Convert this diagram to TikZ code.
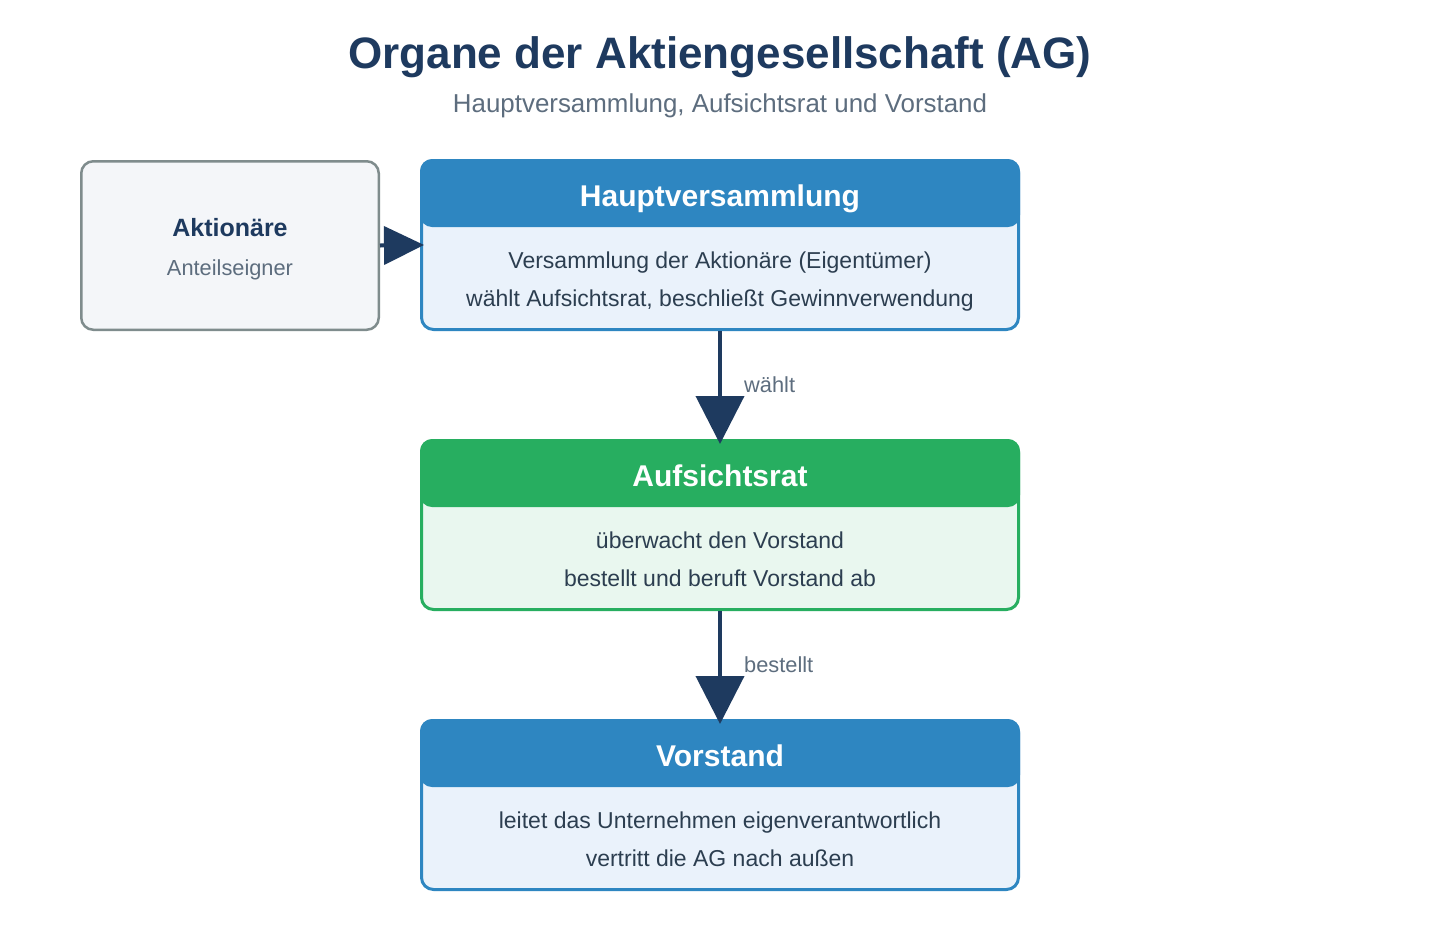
\documentclass[tikz,border=0pt]{standalone}
\usepackage{fontspec}
\setmainfont{Liberation Sans}
\usetikzlibrary{arrows.meta}
\definecolor{navy}{HTML}{1E3A5F}
\definecolor{subgray}{HTML}{5D6D7E}
\definecolor{txt}{HTML}{2C3E50}
\definecolor{hvblue}{HTML}{2E86C1}
\definecolor{hvfill}{HTML}{EAF2FB}
\definecolor{argreen}{HTML}{27AE60}
\definecolor{arfill}{HTML}{E9F7EF}
\definecolor{akgray}{HTML}{7F8C8D}
\definecolor{akfill}{HTML}{F4F6F9}
\tikzset{
  bodybox/.style={draw=#1, line width=3pt, rounded corners=12pt, minimum width=597pt, minimum height=169pt, inner sep=0pt},
  headbox/.style={fill=#1, rounded corners=12pt, minimum width=600pt, minimum height=68pt, inner sep=0pt},
  headtext/.style={text=white, font=\fontsize{30}{34}\selectfont\bfseries, anchor=base, inner sep=0pt},
  line/.style={text=txt, font=\fontsize{23}{27}\selectfont, anchor=base, inner sep=0pt},
  conn/.style={draw=navy, line width=4pt, -{Triangle[length=48pt,width=48pt]}},
  lab/.style={text=subgray, font=\fontsize{21.8}{25}\selectfont, anchor=base west, inner sep=0pt}
}
\begin{document}
\begin{tikzpicture}[x=1pt,y=-1pt]
\useasboundingbox[fill=white] (0,0) rectangle (1440,940);
% title
\node[text=navy, font=\fontsize{44}{50}\selectfont\bfseries, anchor=base, inner sep=0pt] (title) at (720,68) {Organe der Aktiengesellschaft (AG)};
\node[text=subgray, font=\fontsize{25.9}{30}\selectfont, anchor=base, inner sep=0pt] (subtitle) at (720,112) {Hauptversammlung, Aufsichtsrat und Vorstand};
% Aktionaere
\node[draw=akgray, fill=akfill, line width=2.5pt, rounded corners=12pt, minimum width=297.5pt, minimum height=168.5pt] (ak) at (230,245.5) {};
\node[text=navy, font=\fontsize{25}{29}\selectfont\bfseries, anchor=base, inner sep=0pt] (akt) at (230,236) {Aktionäre};
\node[text=subgray, font=\fontsize{21.8}{25}\selectfont, anchor=base, inner sep=0pt] (aks) at (230,275) {Anteilseigner};
% Hauptversammlung
\node[bodybox=hvblue, fill=hvfill] (hv) at (720,245) {};
\node[headbox=hvblue] (hvh) at (720,193) {};
\node[headtext] (hvt) at (720,206) {Hauptversammlung};
\node[line] (hv1) at (720,268) {Versammlung der Aktionäre (Eigentümer)};
\node[line] (hv2) at (720,306) {wählt Aufsichtsrat, beschließt Gewinnverwendung};
% Aufsichtsrat
\node[bodybox=argreen, fill=arfill] (ar) at (720,525) {};
\node[headbox=argreen] (arh) at (720,473) {};
\node[headtext] (art) at (720,486) {Aufsichtsrat};
\node[line] (ar1) at (720,548) {überwacht den Vorstand};
\node[line] (ar2) at (720,586) {bestellt und beruft Vorstand ab};
% Vorstand
\node[bodybox=hvblue, fill=hvfill] (vs) at (720,805) {};
\node[headbox=hvblue] (vsh) at (720,753) {};
\node[headtext] (vst) at (720,766) {Vorstand};
\node[line] (vs1) at (720,828) {leitet das Unternehmen eigenverantwortlich};
\node[line] (vs2) at (720,866) {vertritt die AG nach außen};
% connectors
\draw[conn, -{Triangle[length=40pt,width=38pt]}, shorten >=-4pt] (ak.east) -- (hv.west);
\draw[conn, shorten >=-5pt] (hv.south) -- (ar.north);
\draw[conn, shorten >=-5pt] (ar.south) -- (vs.north);
\node[lab] (l1) at (744,392) {wählt};
\node[lab] (l2) at (744,672) {bestellt};
\end{tikzpicture}
\end{document}
